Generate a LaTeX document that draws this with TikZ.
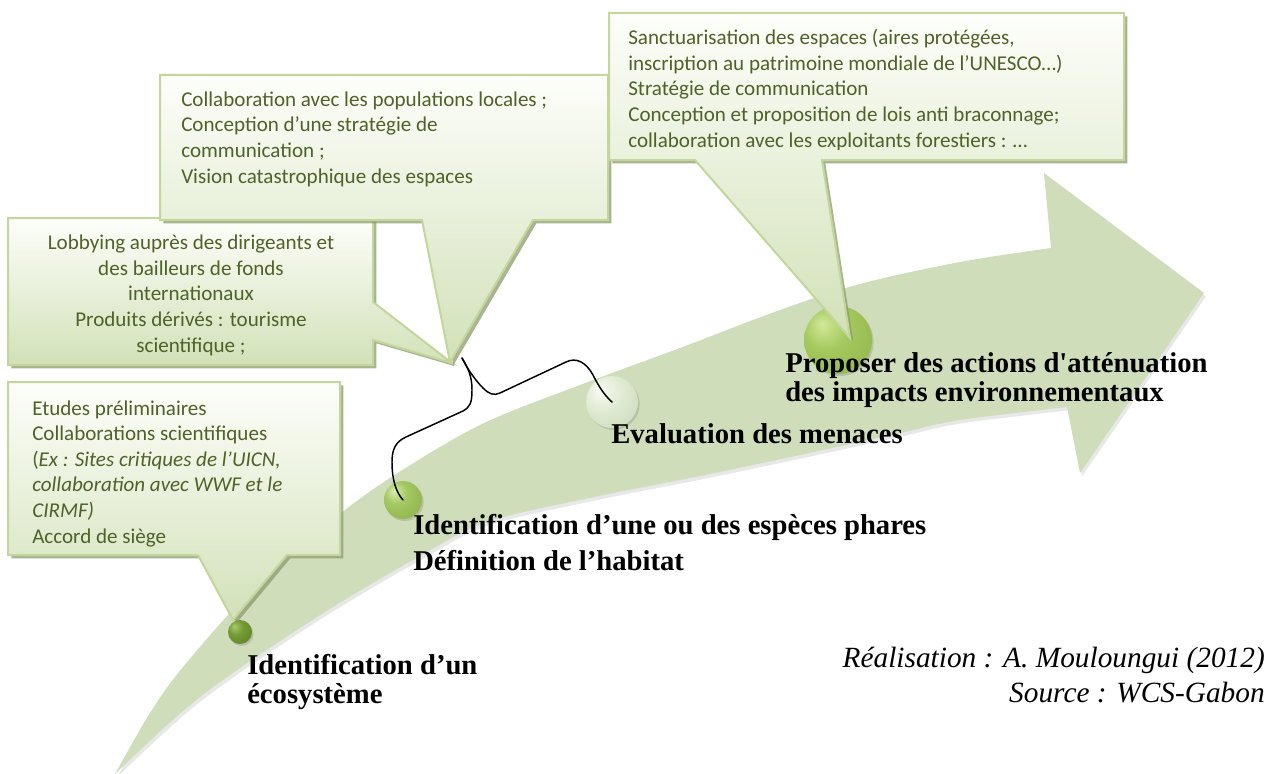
\documentclass[tikz,border=0pt]{standalone}
\usepackage{fontspec}
\setmainfont{Carlito}
\newfontfamily\lblfont{Liberation Serif}
\usetikzlibrary{shadows}

\definecolor{arrowfill}{RGB}{207,221,186}
\definecolor{calloutline}{RGB}{195,214,155}
\definecolor{callouttop}{RGB}{253,254,250}
\definecolor{calloutbot}{RGB}{210,225,184}
\definecolor{callouttext}{RGB}{79,98,40}
\definecolor{shadowcol}{RGB}{140,155,110}

\pgfdeclareradialshading{ballone}{\pgfpoint{-12bp}{12bp}}{rgb(0bp)=(0.66,0.79,0.43); rgb(15bp)=(0.46,0.61,0.21); rgb(40bp)=(0.36,0.50,0.15); rgb(66bp)=(0.26,0.36,0.10)}
\pgfdeclareradialshading{balltwo}{\pgfpoint{-12bp}{12bp}}{rgb(0bp)=(0.85,0.93,0.68); rgb(15bp)=(0.64,0.78,0.38); rgb(40bp)=(0.55,0.70,0.30); rgb(66bp)=(0.40,0.52,0.22)}
\pgfdeclareradialshading{ballthree}{\pgfpoint{-12bp}{12bp}}{rgb(0bp)=(0.97,0.98,0.95); rgb(18bp)=(0.88,0.92,0.83); rgb(40bp)=(0.80,0.85,0.74); rgb(66bp)=(0.58,0.62,0.52)}
\pgfdeclareradialshading{ballfour}{\pgfpoint{-12bp}{12bp}}{rgb(0bp)=(0.82,0.91,0.60); rgb(16bp)=(0.65,0.79,0.37); rgb(40bp)=(0.56,0.71,0.29); rgb(66bp)=(0.42,0.55,0.20)}

\tikzset{
  callout/.style={draw=calloutline, line width=1.5pt, line join=miter, top color=callouttop, bottom color=calloutbot,
    drop shadow={shadow xshift=2.5pt, shadow yshift=-2.5pt, fill=shadowcol, opacity=0.75}},
  ctext/.style={font=\fontsize{15.8}{19.2}\selectfont, text=callouttext, inner sep=0pt, anchor=base west, align=left},
  lbl/.style={font=\lblfont\bfseries\fontsize{21.5}{21.75}\selectfont, inner sep=0pt, anchor=base west, align=left},
  bead/.style={circle, inner sep=0pt, draw=none, drop shadow={shadow xshift=1.2pt, shadow yshift=-1.5pt, opacity=0.3}},
  bracestyle/.style={line width=1.1pt, black, line cap=round, line join=round}
}

\begin{document}
\begin{tikzpicture}[x=0.75pt, y=-0.75pt]
\useasboundingbox (0,0) rectangle (1270,774);
\fill[white] (0,0) rectangle (1270,774);

% big curved arrow
\fill[arrowfill, drop shadow={shadow xshift=1.5pt, shadow yshift=-2.5pt, opacity=0.18}]
  plot[smooth, tension=0.55] coordinates {(115,774) (150,713) (183,667) (250,592) (330,522) (390,478) (480,425) (580,385) (680,348) (780,310) (860,284) (960,262) (1051,248)}
  -- (1044,173) -- (1204,293) -- (1080,473) -- (1067,407)
  -- plot[smooth, tension=0.55] coordinates {(1067,407) (960,420) (900,433) (800,455) (700,476) (594,497) (487,522) (420,556) (317,617) (200,697) (115,774)}
  -- cycle;

% beads on the arrow
\node[bead, minimum size=28.5pt, shading=balltwo] (c2) at (403,500) {};
\node[bead, minimum size=39pt, shading=ballthree] (c3) at (612,402) {};
\node[bead, minimum size=51pt, shading=ballfour] (c4) at (838,340) {};

% callout 2 (lobbying)
\path[callout] (8,218) -- (373,218) -- (373,302) -- (452,363) -- (373,340) -- (373,365) -- (8,365) -- cycle;
\node[ctext, anchor=base, align=center] (t2) at (191,352) {Lobbying auprès des dirigeants et\\des bailleurs de fonds\\internationaux\\Produits dérivés : tourisme\\scientifique ;};

% callout 3 (collaboration)
\path[callout] (160,75) -- (608,75) -- (608,220) -- (533,220) -- (450,362) -- (422,220) -- (160,220) -- cycle;
\node[ctext] (t3) at (181,183) {Collaboration avec les populations locales ;\\Conception d’une stratégie de\\communication ;\\Vision catastrophique des espaces};

% callout 4 (sanctuarisation)
\path[callout] (609,13) -- (1124,13) -- (1124,160) -- (822,160) -- (850,338) -- (695,160) -- (609,160) -- cycle;
\begin{scope}
\clip (609,13) rectangle (1124,149);
\node[ctext] (t4) at (628,147) {Sanctuarisation des espaces (aires protégées,\\inscription au patrimoine mondiale de l’UNESCO…)\\Stratégie de communication\\Conception et proposition de lois anti braconnage;\\collaboration avec les exploitants forestiers : …};
\end{scope}

% callout 1 (etudes)
\path[callout] (8,382) -- (340,382) -- (340,555) -- (287,555) -- (233,620) -- (198,555) -- (8,555) -- cycle;
\begin{scope}
\clip (8,382) rectangle (340,547);
\node[ctext] (t1) at (32,543) {Etudes préliminaires\\Collaborations scientifiques\\(\textit{Ex : Sites critiques de l’UICN,}\\\textit{collaboration avec WWF et le}\\\textit{CIRMF)}\\Accord de siège};
\end{scope}

\node[bead, minimum size=18pt, shading=ballone] (c1) at (240,632) {};

% brace linking the two middle stages
\coordinate (bt) at (462,358);
\draw[bracestyle] (bt) .. controls (468,368) and (472,376) .. (472,390)
  .. controls (472,403) and (470,407) .. (463,411) -- (406,437)
  .. controls (395,442) and (392,450) .. (392,462)
  .. controls (392,480) and (396,492) .. (c2.center);
\draw[bracestyle] (bt) .. controls (468,370) and (476,381) .. (483,388)
  .. controls (489,394) and (494,396) .. (500,393) -- (566,362)
  .. controls (576,357) and (586,362) .. (593,375)
  .. controls (598,385) and (604,395) .. (c3.center);

% stage labels
\node[lbl] (l1) at (247,703) {Identification d’un\\écosystème};
\node[lbl] (l2) at (413,570) {Identification d’une ou des espèces phares\\[5.25pt]Définition de l’habitat};
\node[lbl] (l3) at (611,443) {Evaluation des menaces};
\node[lbl] (l4) at (785,401) {Proposer des actions d'atténuation\\des impacts environnementaux};

% credits
\node[font=\lblfont\itshape\fontsize{22}{26.25}\selectfont, anchor=base east, align=right, inner sep=0pt] (cr) at (1265,702) {Réalisation : A. Mouloungui (2012)\\Source : WCS-Gabon};
\end{tikzpicture}
\end{document}
